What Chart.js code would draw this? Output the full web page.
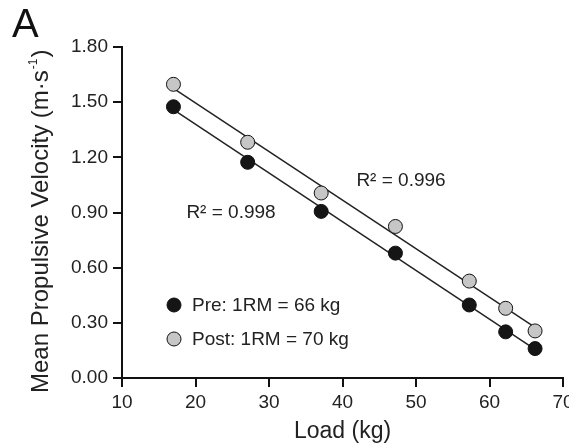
<!DOCTYPE html>
<html><head><meta charset="utf-8">
<script src="https://cdn.jsdelivr.net/npm/chart.js@4/dist/chart.umd.min.js"></script>
<style>
html,body{margin:0;padding:0;background:#fff;overflow:hidden;width:569px;height:447px;}
#wrap{position:absolute;left:0;top:0;width:590px;height:447px;}
</style></head>
<body>
<div id="wrap"><canvas id="c" width="590" height="447"></canvas></div>
<script>
const loads = [17, 27.1, 37.1, 47.2, 57.25, 62.2, 66.2];
const preVel = [1.475, 1.173, 0.906, 0.679, 0.397, 0.251, 0.160];
const postVel = [1.597, 1.282, 1.006, 0.824, 0.527, 0.379, 0.256];
const preFitX = [17, 66.2];
const preFitY = [1.46, 0.155];
const postFitX = [17, 66.2];
const postFitY = [1.575, 0.275];
const preLabel = 'Pre: 1RM = 66 kg';
const postLabel = 'Post: 1RM = 70 kg';
const preR2 = 'R\u00B2 = 0.998';
const postR2 = 'R\u00B2 = 0.996';
const yTitleMain = 'Mean Propulsive Velocity (m\u00B7s';
const yTitleSup = '-1';
const yTitleEnd = ')';
const xTitle = 'Load (kg)';
const panel = 'A';

const FONT = "'Liberation Sans', Arial, sans-serif";
const TXT = '#222';
const PRE_FILL = '#151515';
const POST_FILL = '#c6c6c6';

const pts = (xs, ys) => xs.map((x, i) => ({x, y: ys[i]}));

const annot = {
  id: 'annot',
  afterDraw(chart) {
    const ctx = chart.ctx;
    ctx.save();
    ctx.fillStyle = '#111';
    ctx.font = `40px ${FONT}`;
    ctx.textBaseline = 'alphabetic';
    ctx.textAlign = 'left';
    ctx.fillText(panel, 12, 37);

    ctx.save();
    ctx.translate(48, 393);
    ctx.rotate(-Math.PI / 2);
    ctx.fillStyle = TXT;
    ctx.textAlign = 'left';
    ctx.textBaseline = 'alphabetic';
    ctx.font = `24px ${FONT}`;
    ctx.fillText(yTitleMain, 0, 0);
    let w = ctx.measureText(yTitleMain).width;
    ctx.font = `12px ${FONT}`;
    ctx.fillText(yTitleSup, w + 1, -11);
    w += ctx.measureText(yTitleSup).width + 2;
    ctx.font = `24px ${FONT}`;
    ctx.fillText(yTitleEnd, w, 0);
    ctx.restore();

    ctx.font = `19px ${FONT}`;
    ctx.fillStyle = TXT;
    ctx.textBaseline = 'middle';
    ctx.textAlign = 'center';
    ctx.fillText(preR2, 231, 213);
    ctx.fillText(postR2, 401, 181);
    const items = [[preLabel, PRE_FILL, 305], [postLabel, POST_FILL, 339]];
    items.forEach(([t, f, y]) => {
      ctx.beginPath();
      ctx.arc(174, y, 7, 0, Math.PI * 2);
      ctx.fillStyle = f; ctx.fill();
      ctx.lineWidth = 1; ctx.strokeStyle = '#111'; ctx.stroke();
      ctx.fillStyle = TXT;
      ctx.textAlign = 'left';
      ctx.fillText(t, 192, y + 1);
    });
    ctx.restore();
  }
};

new Chart(document.getElementById('c'), {
  type: 'scatter',
  data: {
    datasets: [
      {type: 'line', data: pts(preFitX, preFitY), borderColor: '#222', borderWidth: 1.5, pointRadius: 0, fill: false, order: 3},
      {type: 'line', data: pts(postFitX, postFitY), borderColor: '#222', borderWidth: 1.5, pointRadius: 0, fill: false, order: 3},
      {data: pts(loads, preVel), backgroundColor: PRE_FILL, borderColor: '#111', borderWidth: 1, pointRadius: 7, order: 1},
      {data: pts(loads, postVel), backgroundColor: POST_FILL, borderColor: '#111', borderWidth: 1, pointRadius: 7, order: 2}
    ]
  },
  options: {
    responsive: false,
    animation: false,
    events: [],
    layout: {padding: {left: 0, right: 27, top: 47, bottom: 0}},
    plugins: {legend: {display: false}, tooltip: {enabled: false}},
    scales: {
      x: {
        type: 'linear', min: 10, max: 70,
        afterFit: s => { s.height = 69; },
        ticks: {stepSize: 10, color: TXT, font: {family: FONT, size: 19}, padding: 4, maxRotation: 0},
        grid: {drawOnChartArea: false, drawTicks: true, tickLength: 9, color: '#111', lineWidth: 2},
        border: {color: '#111', width: 2},
        title: {display: true, text: xTitle, color: TXT, font: {family: FONT, size: 23}, padding: {top: 0, bottom: 2}}
      },
      y: {
        type: 'linear', min: 0, max: 1.8,
        afterFit: s => { s.width = 122; },
        ticks: {stepSize: 0.3, color: TXT, font: {family: FONT, size: 19}, padding: 5, callback: v => v.toFixed(2)},
        grid: {drawOnChartArea: false, drawTicks: true, tickLength: 9, color: '#111', lineWidth: 2},
        border: {color: '#111', width: 2},
        title: {display: false}
      }
    }
  },
  plugins: [annot]
});
</script>
</body></html>
